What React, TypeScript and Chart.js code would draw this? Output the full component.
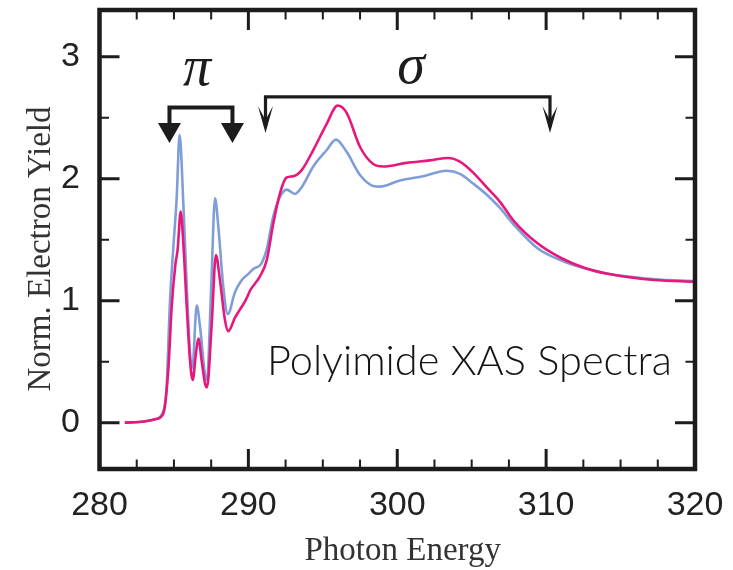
import React, { useEffect, useRef } from 'react';
import { Chart, registerables } from 'chart.js';

Chart.register(...registerables);

// ---- data ----
const energyBlue = [
  281.7, 283.0, 283.8, 284.2, 284.5, 284.73, 284.96, 285.18, 285.38, 285.63,
  285.86, 286.08, 286.24, 286.53, 286.75, 287.1, 287.22, 287.5, 287.76, 287.98,
  288.31, 288.62, 289.1, 289.5, 290.0, 290.33, 290.85, 291.23, 291.67, 292.12,
  292.57, 293.13, 293.58, 294.36, 295.26, 295.88, 296.6, 297.5, 298.39, 298.84,
  300.18, 301.75, 303.32, 304.21, 305.1, 306.0, 306.9, 307.85, 309.42, 311.0,
  312.56, 314.13, 315.7, 317.26, 320.0,
];
const yieldBlue = [
  0.0, 0.01, 0.03, 0.07, 0.28, 0.98, 1.44, 1.83, 2.36, 1.8,
  1.12, 0.57, 0.45, 0.96, 0.79, 0.38, 0.35, 1.1, 1.84, 1.61,
  1.12, 0.89, 1.07, 1.16, 1.22, 1.26, 1.3, 1.42, 1.69, 1.85,
  1.91, 1.875, 1.93, 2.1, 2.235, 2.32, 2.22, 2.03, 1.94, 1.935,
  1.985, 2.02, 2.065, 2.04, 1.96, 1.87, 1.76, 1.62, 1.43, 1.33,
  1.265, 1.22, 1.195, 1.175, 1.16,
];
const energyPink = [
  281.7, 283.0, 283.8, 284.3, 284.62, 284.85, 285.1, 285.25, 285.45, 285.63,
  285.86, 286.08, 286.26, 286.48, 286.64, 286.86, 287.09, 287.22, 287.53, 287.82,
  288.09, 288.43, 288.65, 289.1, 289.4, 289.8, 290.15, 290.78, 291.23, 291.67,
  292.12, 292.57, 293.02, 293.58, 294.36, 295.26, 296.0, 296.6, 297.5, 298.39,
  299.06, 300.63, 302.2, 303.43, 304.21, 305.1, 306.0, 306.9, 307.85, 309.42,
  311.0, 312.56, 314.13, 315.7, 317.26, 320.0,
];
const yieldPink = [
  0.0, 0.01, 0.03, 0.08, 0.43, 0.95, 1.3, 1.42, 1.73, 1.47,
  0.95, 0.51, 0.35, 0.57, 0.69, 0.51, 0.32, 0.29, 0.79, 1.375,
  1.17, 0.84, 0.75, 0.86, 0.92, 1.0, 1.09, 1.2, 1.33, 1.63,
  1.88, 2.01, 2.02, 2.07, 2.235, 2.45, 2.6, 2.54, 2.26, 2.12,
  2.1, 2.13, 2.15, 2.17, 2.14, 2.05, 1.93, 1.81, 1.65, 1.47,
  1.35, 1.27, 1.22, 1.19, 1.17, 1.155,
];

const xTickValues = [280, 290, 300, 310, 320];
const xTickLabels = ['280', '290', '300', '310', '320'];
const yTickValues = [0, 1, 2, 3];
const yTickLabels = ['0', '1', '2', '3'];
const xMajorInner = [290, 300, 310];
const xMinorTicks = [282.5, 285, 287.5, 292.5, 295, 297.5, 302.5, 305, 307.5, 312.5, 315, 317.5];
const yMinorTicks = [0.5, 1.5, 2.5];
const xRange = [280, 320];
const yRange = [-0.38, 3.383];

const xTitle = 'Photon Energy';
const yTitle = 'Norm. Electron Yield';
const sampleLabel = 'Polyimide XAS Spectra';
const piLabel = 'π';
const sigmaLabel = 'σ';

// annotation anchors, in data units
const piBracket = { from: 284.7, to: 288.93, bar: 2.584, stemEnd: 2.457, tip: 2.293 };
const sigmaBracket = { from: 291.15, to: 310.26, bar: 2.67, tip: 2.375 };
const piText = { x: 286.55, y: 2.768 };
const sigmaText = { x: 300.92, y: 2.785 };
const sampleText = { x: 291.25, xEnd: 318.45, y: 0.391 };

const INK = '#1c1c1c';

const toPoints = (xs: number[], ys: number[]) => xs.map((x, i) => ({ x, y: ys[i] }));

const zeroPadding = (s: any) => {
  s.paddingTop = 0;
  s.paddingBottom = 0;
  s.paddingLeft = 0;
  s.paddingRight = 0;
};

const overlayPlugin = {
  id: 'overlay',
  afterDatasetsDraw(chart: any) {
    const { ctx, chartArea: a, scales } = chart;
    const xs = scales.x;
    const ys = scales.y;
    const px = (v: number) => xs.getPixelForValue(v);
    const py = (v: number) => ys.getPixelForValue(v);
    ctx.save();
    ctx.strokeStyle = INK;
    ctx.fillStyle = INK;
    ctx.lineCap = 'butt';

    const majorLen = 20;
    const minorLen = 9.5;
    const xTick = (v: number, len: number, w: number) => {
      const p = px(v);
      ctx.lineWidth = w;
      ctx.beginPath();
      ctx.moveTo(p, a.bottom);
      ctx.lineTo(p, a.bottom - len);
      ctx.moveTo(p, a.top);
      ctx.lineTo(p, a.top + len);
      ctx.stroke();
    };
    const yTick = (v: number, len: number, w: number) => {
      const p = py(v);
      ctx.lineWidth = w;
      ctx.beginPath();
      ctx.moveTo(a.left, p);
      ctx.lineTo(a.left + len, p);
      ctx.moveTo(a.right, p);
      ctx.lineTo(a.right - len, p);
      ctx.stroke();
    };
    xMajorInner.forEach((v) => xTick(v, majorLen, 3));
    xMinorTicks.forEach((v) => xTick(v, minorLen, 2));
    yTickValues.forEach((v) => yTick(v, majorLen, 3));
    yMinorTicks.forEach((v) => yTick(v, minorLen, 2));

    // frame
    ctx.lineWidth = 4.5;
    ctx.lineJoin = 'miter';
    ctx.strokeRect(a.left, a.top, a.right - a.left, a.bottom - a.top);

    // pi bracket (heavy, filled triangular heads)
    {
      const x1 = px(piBracket.from);
      const x2 = px(piBracket.to);
      const yb = py(piBracket.bar);
      const ys2 = py(piBracket.stemEnd);
      const yt = py(piBracket.tip);
      ctx.lineWidth = 4;
      ctx.lineJoin = 'miter';
      ctx.beginPath();
      ctx.moveTo(x1, ys2 + 1);
      ctx.lineTo(x1, yb);
      ctx.lineTo(x2, yb);
      ctx.lineTo(x2, ys2 + 1);
      ctx.stroke();
      [x1, x2].forEach((x) => {
        ctx.beginPath();
        ctx.moveTo(x - 11.5, ys2);
        ctx.lineTo(x + 11.5, ys2);
        ctx.lineTo(x, yt);
        ctx.closePath();
        ctx.fill();
      });
    }
    // sigma bracket (thin, narrow concave heads)
    {
      const x1 = px(sigmaBracket.from);
      const x2 = px(sigmaBracket.to);
      const yb = py(sigmaBracket.bar);
      const yt = py(sigmaBracket.tip);
      ctx.lineWidth = 3.2;
      ctx.beginPath();
      ctx.moveTo(x1, yt - 6);
      ctx.lineTo(x1, yb);
      ctx.lineTo(x2, yb);
      ctx.lineTo(x2, yt - 6);
      ctx.stroke();
      [x1, x2].forEach((x) => {
        ctx.beginPath();
        ctx.moveTo(x, yt);
        ctx.lineTo(x - 7.5, yt - 27);
        ctx.lineTo(x, yt - 13);
        ctx.lineTo(x + 7.5, yt - 27);
        ctx.closePath();
        ctx.fill();
      });
    }

    // greek labels
    ctx.textAlign = 'center';
    ctx.textBaseline = 'alphabetic';
    ctx.font = 'italic 56px "Liberation Serif", "DejaVu Serif", serif';
    ctx.fillText(piLabel, px(piText.x), py(piText.y));
    ctx.fillText(sigmaLabel, px(sigmaText.x), py(sigmaText.y));

    // sample label, fitted to its span
    {
      const left = px(sampleText.x);
      const target = px(sampleText.xEnd) - left;
      ctx.font = '300 40px Lato, "DejaVu Sans", sans-serif';
      const w = ctx.measureText(sampleLabel).width;
      const size = (40 * target) / w;
      ctx.font = `300 ${size.toFixed(2)}px Lato, "DejaVu Sans", sans-serif`;
      ctx.fillStyle = '#141414';
      ctx.textAlign = 'left';
      ctx.fillText(sampleLabel, left, py(sampleText.y));
    }

    // axis titles
    ctx.fillStyle = '#333333';
    ctx.font = '33px "Liberation Serif", "Times New Roman", serif';
    ctx.textAlign = 'center';
    ctx.textBaseline = 'alphabetic';
    ctx.fillText(xTitle, (a.left + a.right) / 2 + 5.5, a.bottom + 91);
    ctx.save();
    ctx.translate(a.left - 49.5, (a.top + a.bottom) / 2 + 9.5);
    ctx.rotate(-Math.PI / 2);
    ctx.fillText(yTitle, 0, 0);
    ctx.restore();

    ctx.restore();
  },
};

export default function App() {
  const canvasRef = useRef<HTMLCanvasElement | null>(null);

  useEffect(() => {
    const canvas = canvasRef.current;
    if (!canvas) return;
    const tickFont = { family: '"Liberation Sans", Arial, sans-serif', size: 34, lineHeight: 1 };
    const chart = new Chart(canvas, {
      type: 'line',
      data: {
        datasets: [
          {
            label: 'pink',
            data: toPoints(energyPink, yieldPink),
            borderColor: '#e8177c',
            borderWidth: 2.6,
            pointRadius: 0,
            cubicInterpolationMode: 'monotone',
            fill: false,
            order: 0,
          },
          {
            label: 'blue',
            data: toPoints(energyBlue, yieldBlue),
            borderColor: '#7f9ed8',
            borderWidth: 2.6,
            pointRadius: 0,
            cubicInterpolationMode: 'monotone',
            fill: false,
            order: 1,
          },
        ],
      },
      options: {
        responsive: false,
        animation: false,
        devicePixelRatio: 1,
        layout: { padding: { top: 10, right: 38, left: 0, bottom: 0 } },
        plugins: { legend: { display: false }, tooltip: { enabled: false } },
        events: [],
        scales: {
          x: {
            type: 'linear',
            min: xRange[0],
            max: xRange[1],
            grid: { display: false, drawTicks: false },
            border: { display: false },
            afterBuildTicks: (s: any) => {
              s.ticks = xTickValues.map((v) => ({ value: v }));
            },
            afterFit: (s: any) => {
              s.height = 101;
              zeroPadding(s);
            },
            ticks: {
              padding: 20,
              maxRotation: 0,
              autoSkip: false,
              color: '#222222',
              font: tickFont,
              callback: (v: any) => {
                const i = xTickValues.indexOf(Number(v));
                return i >= 0 ? xTickLabels[i] : '';
              },
            },
          },
          y: {
            type: 'linear',
            min: yRange[0],
            max: yRange[1],
            grid: { display: false, drawTicks: false },
            border: { display: false },
            afterBuildTicks: (s: any) => {
              s.ticks = yTickValues.map((v) => ({ value: v }));
            },
            afterFit: (s: any) => {
              s.width = 99.5;
              zeroPadding(s);
            },
            ticks: {
              padding: 19.5,
              autoSkip: false,
              color: '#222222',
              font: tickFont,
              callback: (v: any) => {
                const i = yTickValues.indexOf(Number(v));
                return i >= 0 ? yTickLabels[i] : '';
              },
            },
          },
        },
      },
      plugins: [overlayPlugin],
    });
    return () => chart.destroy();
  }, []);

  return (
    <div style={{ position: 'fixed', left: 0, top: 0, width: 733, height: 570, background: '#ffffff' }}>
      <canvas ref={canvasRef} width={733} height={570} style={{ width: 733, height: 570, display: 'block' }} />
    </div>
  );
}
